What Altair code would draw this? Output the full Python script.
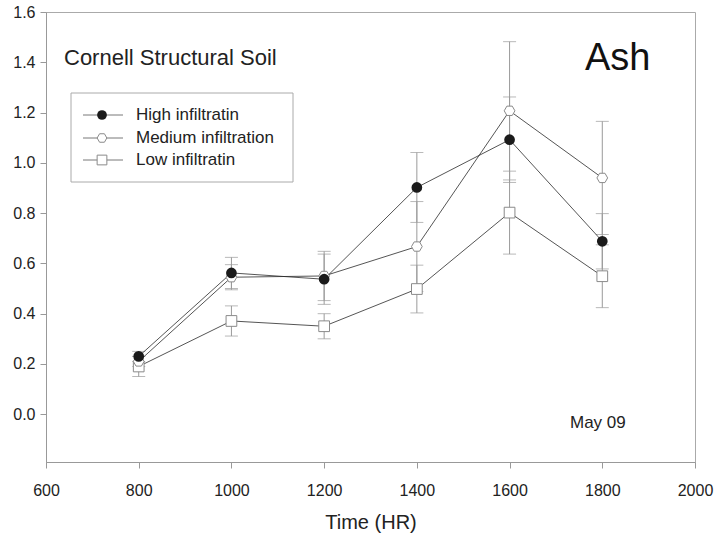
import altair as alt
import pandas as pd

times = [800, 1000, 1200, 1400, 1600, 1800]
series_names = ["High infiltratin", "Medium infiltration", "Low infiltratin"]
high_mean = [0.23, 0.562, 0.537, 0.902, 1.092, 0.688]
high_err = [0.02, 0.062, 0.10, 0.139, 0.17, 0.11]
med_mean = [0.21, 0.545, 0.55, 0.667, 1.207, 0.940]
med_err = [0.02, 0.05, 0.098, 0.179, 0.275, 0.225]
low_mean = [0.19, 0.371, 0.350, 0.498, 0.802, 0.549]
low_err = [0.04, 0.06, 0.05, 0.095, 0.165, 0.125]
x_ticks = [600, 800, 1000, 1200, 1400, 1600, 1800, 2000]
y_ticks = [0.0, 0.2, 0.4, 0.6, 0.8, 1.0, 1.2, 1.4, 1.6]

rows = []
for name, means, errs in zip(series_names, [high_mean, med_mean, low_mean], [high_err, med_err, low_err]):
    for t, m, e in zip(times, means, errs):
        rows.append({"series": name, "time": t, "mean": m, "lo": m - e, "hi": m + e})
df = pd.DataFrame(rows)
caps = pd.concat([
    df[["series", "time", "lo"]].rename(columns={"lo": "v"}),
    df[["series", "time", "hi"]].rename(columns={"hi": "v"}),
])

FONT = "Liberation Sans"
xs = alt.Scale(domain=[600, 2000], nice=False, zero=False)
ys = alt.Scale(domain=[-0.19, 1.6], nice=False, zero=False)
xaxis = alt.Axis(values=x_ticks, title="Time (HR)", format="d",
                 labelFlush=False, labelOverlap=False, labelPadding=14, titlePadding=14)
yaxis = alt.Axis(values=y_ticks, title=None, format=".1f", labelPadding=5)


def X(f):
    return alt.X(f, scale=xs, axis=xaxis)


def Y(f):
    return alt.Y(f, scale=ys, axis=yaxis)


base = alt.Chart(df)
err = base.mark_rule(color="#9a9a9a", strokeWidth=1).encode(x=X("time:Q"), y=Y("lo:Q"), y2="hi:Q")
capm = alt.Chart(caps).mark_tick(orient="horizontal", size=13, thickness=1, color="#9a9a9a").encode(
    x=X("time:Q"), y=Y("v:Q"))
lines = base.mark_line(color="#2a2a2a", strokeWidth=0.8).encode(x=X("time:Q"), y=Y("mean:Q"), detail="series:N")

hexpath = "M-0.5,-0.87L0.5,-0.87L1,0L0.5,0.87L-0.5,0.87L-1,0Z"
styles = [
    dict(shape="circle", filled=True, color="#1a1a1a", opacity=1),
    dict(shape=hexpath, filled=True, fill="white", stroke="#8a8a8a", strokeWidth=1, opacity=1),
    dict(shape="square", filled=True, fill="white", stroke="#8a8a8a", strokeWidth=1, opacity=1),
]
pts = []
for name, st in zip(series_names, styles):
    pts.append(base.transform_filter(alt.datum.series == name).mark_point(size=115, **st).encode(
        x=X("time:Q"), y=Y("mean:Q")))

# legend (box, line samples, markers, labels)
one = pd.DataFrame({"a": [0]})
legend_layers = [alt.Chart(one).mark_rect(fill="white", stroke="#aaaaaa", strokeWidth=1).encode(
    x=alt.value(25), x2=alt.value(247), y=alt.value(81), y2=alt.value(170))]
row_y = [103, 126, 148]
for name, st, ry in zip(series_names, styles, row_y):
    d = pd.DataFrame({"series": [name]})
    legend_layers.append(alt.Chart(d).mark_rule(color="#555555", strokeWidth=0.8).encode(
        x=alt.value(37), x2=alt.value(77), y=alt.value(ry)))
    legend_layers.append(alt.Chart(d).mark_point(size=95, **st).encode(x=alt.value(56), y=alt.value(ry)))
    legend_layers.append(alt.Chart(d).mark_text(align="left", baseline="middle", font=FONT, fontSize=17,
                                                color="#222").encode(x=alt.value(90), y=alt.value(ry), text="series:N"))

t1 = alt.Chart(pd.DataFrame({"t": ["Cornell Structural Soil"]})).mark_text(
    align="left", baseline="alphabetic", font=FONT, fontSize=22, color="#222").encode(
    x=alt.value(18), y=alt.value(53), text="t:N")
t2 = alt.Chart(pd.DataFrame({"t": ["Ash"]})).mark_text(
    align="left", baseline="alphabetic", font=FONT, fontSize=38, color="#111").encode(
    x=alt.value(539), y=alt.value(58), text="t:N")
t3 = alt.Chart(pd.DataFrame({"t": ["May 09"]})).mark_text(
    align="left", baseline="alphabetic", font=FONT, fontSize=17, color="#222").encode(
    x=alt.value(524), y=alt.value(416), text="t:N")

chart = alt.layer(err, capm, lines, *pts[::-1], *legend_layers, t1, t2, t3).properties(
    width=649, height=450,
    background="white",
    autosize=alt.AutoSizeParams(type="none"),
    padding={"left": 46, "top": 12, "right": 22, "bottom": 81},
).configure_view(stroke="#aaaaaa", strokeWidth=1).configure_axis(
    grid=False, domainColor="#999999", tickColor="#999999", tickSize=6,
    labelFont=FONT, labelFontSize=16, labelColor="#222", titleFont=FONT, titleFontSize=20,
    titleColor="#222", titleFontWeight="normal",
)

chart.save("out.html", embed_options={"renderer": "svg", "actions": False})
